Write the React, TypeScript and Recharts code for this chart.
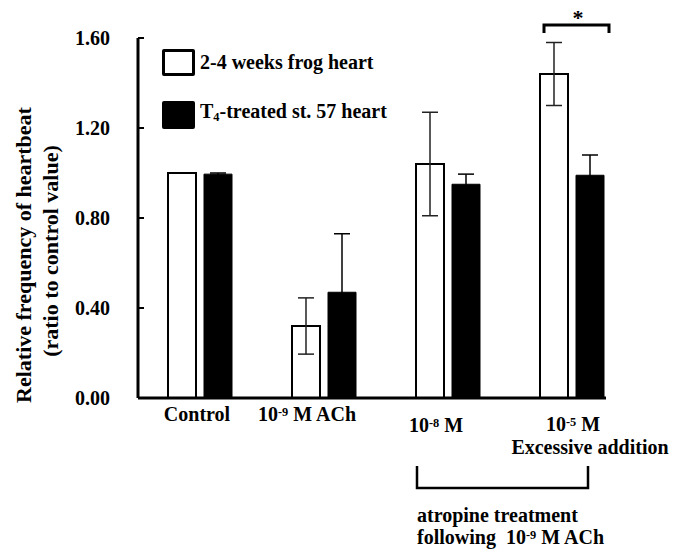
import React from 'react';
import { BarChart, Bar, XAxis, YAxis, ErrorBar, Legend } from 'recharts';

const categories = ['Control', '10^{-9} M ACh', '10^{-8} M', '10^{-5} M'];
const categorySubLabels = ['', '', '', 'Excessive addition'];
const frogMeans = [1.0, 0.32, 1.04, 1.44];
const frogErrors = [0, 0.125, 0.23, 0.14];
const t4Means = [0.995, 0.47, 0.95, 0.99];
const t4Errors = [0.005, 0.26, 0.045, 0.09];
const yTicks = [0, 0.4, 0.8, 1.2, 1.6];
const seriesNames = ['2-4 weeks frog heart', 'T_{4}-treated st. 57 heart'];
const yAxisLines = ['Relative frequency of heartbeat', '(ratio to control value)'];
const bracketNoteLines = ['atropine treatment', 'following  10^{-9} M ACh'];
const significanceMark = '*';

const data = categories.map((c, i) => ({
  name: c,
  sub: categorySubLabels[i],
  frog: frogMeans[i],
  frogErr: frogErrors[i],
  t4: t4Means[i],
  t4Err: t4Errors[i],
}));

const FONT = '"Liberation Serif", "Times New Roman", serif';

function svgRich(str: string, key = 'r') {
  const parts = str.split(/(\^\{[^}]*\}|_\{[^}]*\})/).filter((s) => s.length > 0);
  return parts.map((p, i) => {
    if (p.startsWith('^{')) {
      return (
        <tspan key={key + i} fontSize="0.62em" baselineShift="45%">
          {p.slice(2, -1)}
        </tspan>
      );
    }
    if (p.startsWith('_{')) {
      return (
        <tspan key={key + i} fontSize="0.62em" baselineShift="-25%">
          {p.slice(2, -1)}
        </tspan>
      );
    }
    return (
      <tspan key={key + i} style={{ whiteSpace: 'pre' }}>
        {p}
      </tspan>
    );
  });
}

function htmlRich(str: string) {
  const parts = str.split(/(\^\{[^}]*\}|_\{[^}]*\})/).filter((s) => s.length > 0);
  return parts.map((p, i) => {
    if (p.startsWith('^{')) return <sup key={i} style={{ fontSize: '0.62em' }}>{p.slice(2, -1)}</sup>;
    if (p.startsWith('_{')) return <sub key={i} style={{ fontSize: '0.62em', verticalAlign: '-0.25em' }}>{p.slice(2, -1)}</sub>;
    return <span key={i}>{p}</span>;
  });
}

const YTick = (p: any) => {
  const { x, y, payload } = p;
  return (
    <g>
      <line x1={x} x2={x + 6} y1={y} y2={y} stroke="#000" strokeWidth={2} />
      <text
        x={x - 28}
        y={y}
        dy="0.35em"
        textAnchor="end"
        fontFamily={FONT}
        fontWeight="bold"
        fontSize={20}
        fill="#000"
      >
        {Number(payload.value).toFixed(2)}
      </text>
    </g>
  );
};

const xDx = [-3, -17, -12, 1];
const xDy = [23, 23, 34, 33];

const XTick = (p: any) => {
  const { x, y, payload, index } = p;
  const sub = categorySubLabels[index];
  return (
    <g>
      <text
        x={x + xDx[index]}
        y={y + xDy[index]}
        textAnchor="middle"
        fontFamily={FONT}
        fontWeight="bold"
        fontSize={20}
        fill="#000"
      >
        {svgRich(String(payload.value), 'x' + index)}
      </text>
      {sub ? (
        <text
          x={x + 18}
          y={y + 56}
          textAnchor="middle"
          fontFamily={FONT}
          fontWeight="bold"
          fontSize={20}
          fill="#000"
        >
          {sub}
        </text>
      ) : null}
    </g>
  );
};

const LegendBox = () => (
  <div style={{ fontFamily: FONT, fontWeight: 'bold', fontSize: 20, color: '#000' }}>
    <div style={{ display: 'flex', alignItems: 'center', height: 27, marginBottom: 25 }}>
      <div style={{ width: 33, height: 27, boxSizing: 'border-box', border: '3px solid #000', background: '#fff', borderRadius: 2 }} />
      <span style={{ marginLeft: 5, whiteSpace: 'nowrap', lineHeight: '27px' }}>{htmlRich(seriesNames[0])}</span>
    </div>
    <div style={{ display: 'flex', alignItems: 'center', height: 27 }}>
      <div style={{ width: 33, height: 28, boxSizing: 'border-box', background: '#000', borderRadius: 2 }} />
      <span style={{ marginLeft: 5, whiteSpace: 'nowrap', lineHeight: '27px' }}>{htmlRich(seriesNames[1])}</span>
    </div>
  </div>
);

export default function App() {
  return (
    <div style={{ position: 'absolute', left: 0, top: 0, width: 673, height: 549, background: '#fff' }}>
      <BarChart
        width={673}
        height={549}
        data={data}
        margin={{ top: 38, right: 67, bottom: 121, left: 78 }}
        barSize={28}
        barGap={8}
      >
        <YAxis
          width={60}
          domain={[0, 1.6]}
          ticks={yTicks}
          interval={0}
          tickSize={0}
          tickMargin={0}
          tickLine={false}
          axisLine={{ stroke: '#000', strokeWidth: 3 }}
          tick={<YTick />}
          allowDataOverflow
        />
        <XAxis
          dataKey="name"
          height={30}
          tickSize={0}
          tickMargin={0}
          tickLine={false}
          interval={0}
          padding={{ left: 0, right: -28 }}
          axisLine={{ stroke: '#000', strokeWidth: 3 }}
          tick={<XTick />}
        />
        <Legend
          layout="vertical"
          align="center"
          verticalAlign="middle"
          wrapperStyle={{ position: 'absolute', left: 162, top: 49, width: 260, height: 80 }}
          content={() => <LegendBox />}
        />
        <Bar dataKey="frog" name={seriesNames[0]} fill="#fff" stroke="#000" strokeWidth={2} isAnimationActive={false}>
          <ErrorBar dataKey="frogErr" width={8} stroke="#222" strokeWidth={1.5} />
        </Bar>
        <Bar dataKey="t4" name={seriesNames[1]} fill="#000" stroke="#000" strokeWidth={1} isAnimationActive={false}>
          <ErrorBar dataKey="t4Err" width={8} stroke="#000" strokeWidth={1.5} />
        </Bar>
      </BarChart>
      <svg
        width={673}
        height={549}
        style={{ position: 'absolute', left: 0, top: 0, pointerEvents: 'none' }}
      >
        <g fontFamily={FONT} fontWeight="bold" fill="#000">
          <text x={23} y={255} fontSize={22} textAnchor="middle" dominantBaseline="central" transform="rotate(-90 23 255)">
            {yAxisLines[0]}
          </text>
          <text x={50} y={251} fontSize={22} textAnchor="middle" dominantBaseline="central" transform="rotate(-90 50 251)">
            {yAxisLines[1]}
          </text>
          <path d="M544 33 V25 H609 V33" fill="none" stroke="#000" strokeWidth={3} />
          <text x={578} y={25} fontSize={22} textAnchor="middle">
            {significanceMark}
          </text>
          <path d="M417 466 V488 H588 V466" fill="none" stroke="#000" strokeWidth={2.5} />
          <text x={417} y={522} fontSize={20}>
            {svgRich(bracketNoteLines[0], 'b0')}
          </text>
          <text x={417} y={544} fontSize={20}>
            {svgRich(bracketNoteLines[1], 'b1')}
          </text>
        </g>
      </svg>
    </div>
  );
}
